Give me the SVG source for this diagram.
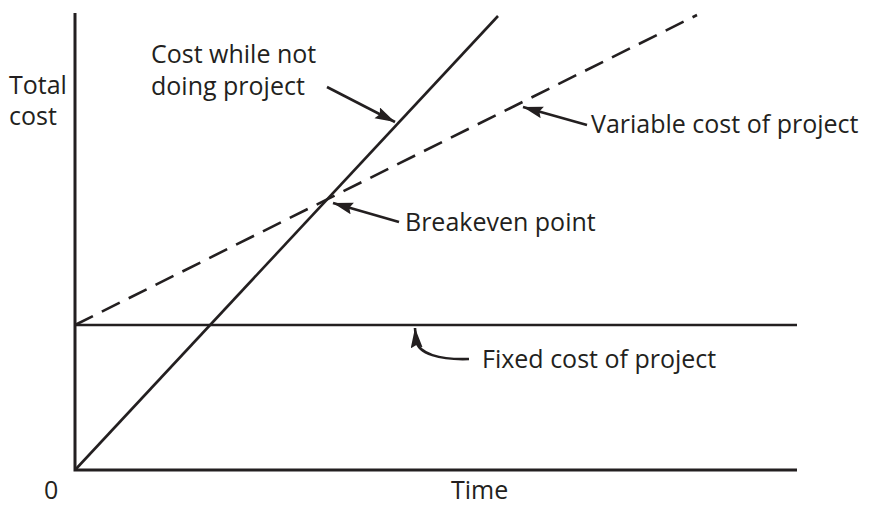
<svg xmlns="http://www.w3.org/2000/svg" width="873" height="505" viewBox="0 0 873 505">
  <style>
    .ln { stroke: #231f20; stroke-width: 2.6; fill: none; }
    .axis { stroke: #231f20; stroke-width: 3; fill: none; }
    .dash { stroke-dasharray: 20 10; }
    .ptr { stroke: #231f20; stroke-width: 2.6; fill: none; marker-end: url(#head); }
    text { font-family: "Open Sans", "Noto Sans", sans-serif; font-size: 25px; fill: #231f20; }
  </style>
  <defs>
    <marker id="head" markerUnits="userSpaceOnUse" markerWidth="22" markerHeight="14" refX="20" refY="6" orient="auto">
      <path d="M0,0 L20,6 L0,12 L3,6 z" fill="#231f20"/>
    </marker>
  </defs>
  <rect width="873" height="505" fill="#ffffff"/>

  <!-- axes -->
  <g id="axes">
    <path class="axis" d="M75,13 V470 H797"/>
    <text x="9" y="94">Total</text>
    <text x="9" y="125">cost</text>
    <text x="44" y="499">0</text>
    <text x="451" y="499">Time</text>
  </g>

  <!-- cost lines -->
  <g id="fixed-cost">
    <line class="ln" x1="75" y1="325" x2="797" y2="325"/>
  </g>
  <g id="variable-cost">
    <line class="ln dash" x1="75" y1="325" x2="697" y2="15"/>
  </g>
  <g id="cost-not-doing">
    <line class="ln" x1="75" y1="470" x2="498" y2="16"/>
  </g>

  <!-- labels -->
  <g id="label-cost-not-doing">
    <text x="151" y="63">Cost while not</text>
    <text x="151" y="95">doing project</text>
  </g>
  <g id="label-variable">
    <text x="591" y="133">Variable cost of project</text>
  </g>
  <g id="label-breakeven">
    <text x="405" y="231">Breakeven point</text>
  </g>
  <g id="label-fixed">
    <text x="482" y="368">Fixed cost of project</text>
  </g>

  <!-- pointers -->
  <g id="connectors">
    <line class="ptr" x1="327" y1="87" x2="395" y2="122"/>
    <line class="ptr" x1="587" y1="125" x2="523" y2="107"/>
    <line class="ptr" x1="399" y1="222" x2="333" y2="203"/>
    <path class="ptr" d="M469,359 C440,360 418,354 416,340 L415,328"/>
  </g>
</svg>
